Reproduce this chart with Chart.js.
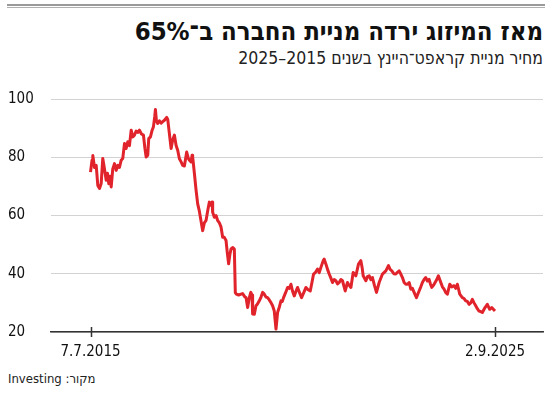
<!DOCTYPE html>
<html lang="he">
<head>
<meta charset="utf-8">
<script src="https://cdn.jsdelivr.net/npm/chart.js@4"></script>
<style>
  body { margin: 0; background: #fff; }
  #wrap { position: relative; width: 550px; height: 399px; overflow: hidden; font-family: "DejaVu Sans Condensed", sans-serif; }
  .rule1 { position: absolute; left: 7px; width: 538px; top: 4px; height: 0; border-top: 2px solid #9a9a9a; }
  .rule2 { position: absolute; left: 7px; width: 538px; top: 7px; height: 0; border-top: 1px solid #b0b0b0; }
  #title { position: absolute; right: 7px; top: 18px; font-size: 25.5px; line-height: 27px; font-weight: bold; color: #111; direction: rtl; white-space: nowrap; }
  #subtitle { position: absolute; right: 7px; top: 48px; font-size: 17.5px; line-height: 20px; color: #222; direction: rtl; white-space: nowrap; }
  #source { position: absolute; left: 8px; top: 371px; font-size: 13px; line-height: 16px; color: #222; direction: rtl; white-space: nowrap; }
  canvas { position: absolute; left: 0; top: 0; }
</style>
</head>
<body>
<div id="wrap">
  <div class="rule1"></div>
  <div class="rule2"></div>
  <div id="title">מאז המיזוג ירדה מניית החברה ב־65%</div>
  <div id="subtitle">מחיר מניית קראפט־היינץ בשנים 2015–2025</div>
  <div id="source">מקור: Investing</div>
  <canvas id="chart" width="550" height="399"></canvas>
</div>
<script>
// Kraft Heinz share price
const years = [
  2015.513, 2015.551, 2015.571, 2015.613, 2015.656, 2015.696, 2015.739, 2015.781, 2015.821, 2015.852,
  2015.907, 2015.939, 2015.972, 2016.002, 2016.032, 2016.072, 2016.115, 2016.158, 2016.198, 2016.240,
  2016.283, 2016.323, 2016.366, 2016.408, 2016.448, 2016.491, 2016.534, 2016.574, 2016.616, 2016.659,
  2016.699, 2016.742, 2016.792, 2016.842, 2016.880, 2016.910, 2016.950, 2016.975, 2017.018, 2017.060,
  2017.093, 2017.126, 2017.143, 2017.168, 2017.201, 2017.243, 2017.286, 2017.326, 2017.369, 2017.426,
  2017.452, 2017.494, 2017.537, 2017.577, 2017.620, 2017.662, 2017.702, 2017.745, 2017.788, 2017.828,
  2017.870, 2017.928, 2017.971, 2017.996, 2018.038, 2018.063, 2018.078, 2018.121, 2018.164, 2018.204,
  2018.246, 2018.289, 2018.329, 2018.372, 2018.414, 2018.460, 2018.497, 2018.535, 2018.565, 2018.580,
  2018.623, 2018.665, 2018.705, 2018.748, 2018.791, 2018.831, 2018.873, 2018.916, 2018.949, 2018.981,
  2019.011, 2019.041, 2019.087, 2019.124, 2019.149, 2019.174, 2019.232, 2019.292, 2019.332, 2019.392,
  2019.418, 2019.458, 2019.500, 2019.538, 2019.568, 2019.583, 2019.626, 2019.668, 2019.701, 2019.751,
  2019.794, 2019.834, 2019.876, 2019.919, 2019.959, 2020.002, 2020.044, 2020.085, 2020.127, 2020.170,
  2020.210, 2020.253, 2020.295, 2020.328, 2020.360, 2020.411, 2020.461, 2020.503, 2020.546, 2020.586,
  2020.629, 2020.671, 2020.712, 2020.762, 2020.812, 2020.867, 2020.922, 2020.975, 2021.030, 2021.073,
  2021.113, 2021.163, 2021.213, 2021.256, 2021.313, 2021.356, 2021.381, 2021.424, 2021.464, 2021.506,
  2021.549, 2021.589, 2021.632, 2021.674, 2021.715, 2021.757, 2021.800, 2021.840, 2021.908, 2021.965,
  2022.008, 2022.051, 2022.108, 2022.176, 2022.241, 2022.301, 2022.334, 2022.359, 2022.427, 2022.467,
  2022.510, 2022.552, 2022.592, 2022.642, 2022.693, 2022.760, 2022.843, 2022.928, 2022.994, 2023.036,
  2023.079, 2023.129, 2023.179, 2023.219, 2023.262, 2023.304, 2023.345, 2023.387, 2023.430, 2023.470,
  2023.513, 2023.555, 2023.595, 2023.638, 2023.696, 2023.763, 2023.806, 2023.846, 2023.889, 2023.931,
  2023.972, 2024.014, 2024.047, 2024.082, 2024.122, 2024.165, 2024.207, 2024.247, 2024.308, 2024.348,
  2024.390, 2024.433, 2024.473, 2024.533, 2024.583, 2024.641, 2024.684, 2024.724, 2024.784, 2024.849,
  2024.892, 2024.934, 2024.975, 2025.017, 2025.060, 2025.100, 2025.143, 2025.185, 2025.225, 2025.268,
  2025.311, 2025.351, 2025.418, 2025.476, 2025.536, 2025.586, 2025.669
];
const prices = [
  74.9, 79.0, 80.6, 76.5, 77.2, 70.3, 69.3, 71.0, 79.6, 77.0,
  72.1, 74.5, 70.9, 73.5, 69.8, 76.0, 77.8, 75.5, 77.2, 76.5,
  79.0, 79.6, 84.7, 83.0, 85.3, 84.0, 89.3, 87.0, 87.6, 89.0,
  88.5, 89.3, 88.0, 87.6, 83.0, 80.1, 80.7, 86.4, 87.0, 89.3,
  90.5, 94.0, 96.4, 92.5, 91.6, 92.5, 91.7, 92.2, 92.7, 93.7,
  93.0, 88.0, 83.0, 86.0, 87.6, 84.0, 82.4, 79.5, 78.4, 77.2,
  77.0, 81.8, 79.5, 79.0, 78.4, 80.7, 80.1, 74.5, 68.6, 64.0,
  61.5, 58.0, 54.8, 57.5, 58.3, 62.0, 64.6, 63.5, 64.6, 61.1,
  59.4, 60.0, 58.3, 57.5, 56.0, 52.5, 52.5, 51.4, 47.0, 43.4,
  46.5, 48.5, 49.0, 48.5, 33.5, 33.0, 32.7, 33.0, 33.2, 32.0,
  31.8, 28.4, 31.8, 33.6, 32.7, 26.2, 26.1, 29.0, 29.5, 30.7,
  32.0, 33.6, 33.0, 32.0, 31.8, 31.0, 30.1, 29.0, 27.2, 21.0,
  26.7, 28.5, 30.7, 30.5, 31.8, 33.5, 35.3, 35.0, 36.4, 34.0,
  32.4, 34.0, 35.3, 33.5, 31.8, 33.5, 35.3, 34.5, 34.1, 37.0,
  39.9, 40.5, 41.6, 40.4, 42.8, 44.5, 45.0, 43.3, 41.5, 39.9,
  38.5, 37.0, 38.0, 37.6, 36.5, 37.0, 38.0, 37.6, 34.1, 37.0,
  36.0, 35.3, 40.4, 39.3, 43.3, 44.5, 42.0, 39.3, 37.6, 39.0,
  39.3, 38.0, 38.7, 36.0, 33.6, 37.0, 39.9, 41.0, 42.8, 41.5,
  41.0, 40.0, 39.9, 40.5, 41.0, 39.9, 38.7, 37.0, 36.4, 36.4,
  37.0, 34.7, 35.0, 33.6, 31.8, 34.1, 35.5, 37.0, 38.0, 38.7,
  37.5, 38.1, 36.5, 35.3, 36.0, 37.0, 38.0, 39.3, 37.0, 35.5,
  34.7, 33.5, 33.0, 36.4, 35.5, 35.9, 35.0, 36.4, 33.0, 31.8,
  31.5, 30.7, 30.5, 29.5, 30.0, 31.2, 30.0, 29.0, 28.0, 27.2,
  27.0, 26.7, 28.4, 29.5, 27.8, 28.4, 27.2
];
const yTicks = [20, 40, 60, 80, 100];
const xTickValues = [2015.513, 2025.669];
const xTickLabels = ['7.7.2015', '2.9.2025'];

const FONT = '"DejaVu Sans Condensed", sans-serif';

// small tick marks crossing the x axis line
const axisMarks = {
  id: 'axisMarks',
  afterDraw(chart) {
    const x = chart.scales.x;
    const ctx = chart.ctx;
    const y0 = chart.chartArea.bottom;
    ctx.save();
    ctx.strokeStyle = '#333';
    ctx.lineWidth = 1.5;
    xTickValues.forEach(v => {
      const px = Math.round(x.getPixelForValue(v)) + 0.5;
      ctx.beginPath();
      ctx.moveTo(px, y0 - 5);
      ctx.lineTo(px, y0 + 5);
      ctx.stroke();
    });
    ctx.restore();
  }
};

new Chart(document.getElementById('chart'), {
  type: 'line',
  data: {
    datasets: [{
      data: years.map((y, i) => ({ x: y, y: prices[i] })),
      borderColor: '#e1232b',
      borderWidth: 3,
      pointRadius: 0,
      tension: 0,
      borderJoinStyle: 'round'
    }]
  },
  options: {
    responsive: false,
    animation: false,
    layout: { padding: { left: 8, right: 7, top: 99, bottom: 0 } },
    plugins: { legend: { display: false }, tooltip: { enabled: false } },
    scales: {
      x: {
        type: 'linear',
        min: 2014.521,
        max: 2026.874,
        afterFit(scale) { scale.height = 67; },
        afterBuildTicks(scale) { scale.ticks = xTickValues.map(v => ({ value: v })); },
        ticks: {
          autoSkip: false,
          maxRotation: 0,
          padding: 11,
          color: '#111',
          font: { family: FONT, size: 15 },
          callback: (v, i) => xTickLabels[i]
        },
        grid: { drawOnChartArea: false, drawTicks: false },
        border: { color: '#333', width: 1.5 }
      },
      y: {
        min: 20,
        max: 100,
        afterFit(scale) { scale.width = 43; },
        afterBuildTicks(scale) { scale.ticks = yTicks.map(v => ({ value: v })); },
        ticks: {
          crossAlign: 'far',
          padding: 0,
          color: '#111',
          font: { family: FONT, size: 15 }
        },
        grid: { color: '#d2d2d2', lineWidth: 1, drawTicks: false },
        border: { display: false }
      }
    }
  },
  plugins: [axisMarks]
});
</script>
</body>
</html>
